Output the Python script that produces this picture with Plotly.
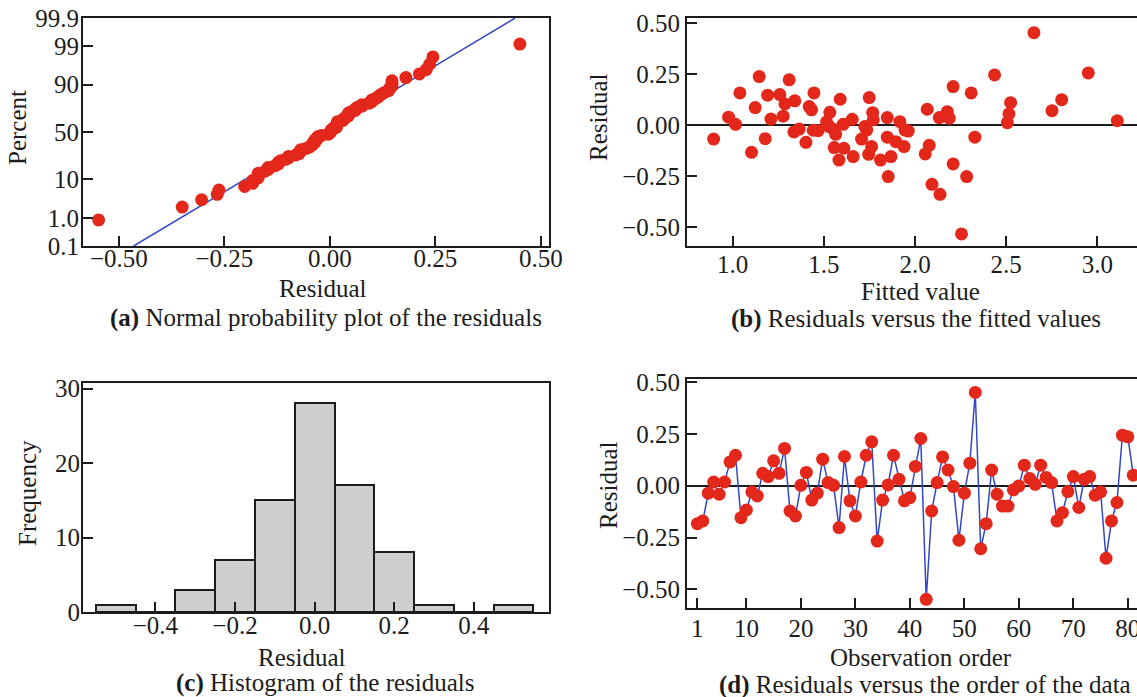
import numpy as np
import plotly.graph_objects as go
from statistics import NormalDist

# ---------------- data ----------------
# residuals in observation order (panel d)
residuals = [-0.183, -0.170, -0.036, 0.018, -0.041, 0.018, 0.115, 0.147, -0.154, -0.117,
             -0.030, -0.049, 0.060, 0.044, 0.120, 0.060, 0.180, -0.122, -0.146, 0.002,
             0.064, -0.069, -0.036, 0.128, 0.015, 0.002, -0.202, 0.141, -0.073, -0.146,
             0.018, 0.147, 0.212, -0.267, -0.069, 0.004, 0.147, 0.031, -0.073, -0.057,
             0.093, 0.228, -0.548, -0.122, 0.015, 0.139, 0.076, -0.004, -0.263, -0.036,
             0.109, 0.450, -0.304, -0.183, 0.076, -0.041, -0.098, -0.098, -0.020, -0.001,
             0.099, 0.035, 0.007, 0.099, 0.040, 0.015, -0.170, -0.130, -0.028, 0.044,
             -0.105, 0.031, 0.044, -0.046, -0.030, -0.350, -0.170, -0.081, 0.244, 0.236,
             0.051]
observation = list(range(1, len(residuals) + 1))

# panel b: fitted values and their residuals
fitted = [0.896, 0.978, 1.016, 1.040, 1.104, 1.124, 1.146, 1.179, 1.192, 1.210,
          1.259, 1.277, 1.287, 1.310, 1.341, 1.336, 1.365, 1.402, 1.420, 1.433,
          1.446, 1.442, 1.469, 1.515, 1.533, 1.530, 1.552, 1.565, 1.557, 1.583,
          1.590, 1.606, 1.610, 1.656, 1.661, 1.707, 1.725, 1.749, 1.762, 1.746,
          1.768, 1.771, 1.735, 1.811, 1.848, 1.848, 1.853, 1.868, 1.895, 1.917,
          1.940, 1.945, 1.963, 2.067, 2.078, 2.056, 2.093, 2.137, 2.133, 2.177,
          2.188, 2.209, 2.209, 2.255, 2.283, 2.308, 2.328, 2.436, 2.524, 2.515,
          2.506, 2.652, 2.751, 2.804, 2.950, 3.109]
fitted_resid = [-0.069, 0.038, 0.003, 0.157, -0.134, 0.085, 0.237, -0.067, 0.146, 0.029,
                0.149, 0.043, 0.103, 0.221, 0.118, -0.034, -0.020, -0.085, 0.090, 0.074,
                0.157, -0.026, -0.028, 0.015, 0.062, -0.008, -0.021, -0.046, -0.111, -0.172,
                0.126, 0.003, -0.114, 0.028, -0.155, -0.069, -0.008, 0.134, -0.106, -0.144,
                0.060, 0.025, -0.025, -0.172, 0.036, -0.060, -0.253, -0.155, -0.082, 0.016,
                -0.106, -0.025, -0.030, 0.077, -0.100, -0.142, -0.291, -0.340, 0.036, 0.065,
                0.033, 0.188, -0.191, -0.534, -0.253, 0.157, -0.060, 0.245, 0.109, 0.054,
                0.011, 0.452, 0.070, 0.124, 0.255, 0.021]

# panel c: histogram
bin_centers = [-0.5, -0.4, -0.3, -0.2, -0.1, 0.0, 0.1, 0.2, 0.3, 0.4, 0.5]
bin_counts = [1, 0, 3, 7, 15, 28, 17, 8, 1, 0, 1]

# panel a: probability-axis tick labels
pct_ticks = [0.1, 1.0, 10, 50, 90, 99, 99.9]
pct_labels = ["0.1", "1.0", "10", "50", "90", "99", "99.9"]

# ---------------- styling ----------------
W, H = 1137, 697
RED = "#E3281B"
BLUE = "#3447C2"
AX = "#1c1c1c"
FONT = "Liberation Serif"
FS = 25

nd = NormalDist()
n = len(residuals)
sorted_res = np.sort(residuals)
ranks = np.arange(1, n + 1)
zq = [nd.inv_cdf((r - 0.3) / (n + 0.4)) for r in ranks]
mu = float(np.mean(residuals))
sd = float(np.std(residuals, ddof=1))
zmax = nd.inv_cdf(0.999)
line_z = [-zmax, zmax]
line_x = [mu + sd * z for z in line_z]

def px(x):
    return x / W

def py(y):
    return 1 - y / H

fig = go.Figure()

# (a)
fig.add_trace(go.Scatter(x=line_x, y=line_z, mode="lines", line=dict(color=BLUE, width=1.5),
                         xaxis="x", yaxis="y", showlegend=False))
fig.add_trace(go.Scatter(x=sorted_res, y=zq, mode="markers",
                         marker=dict(color=RED, size=13), xaxis="x", yaxis="y", showlegend=False))
# (b)
fig.add_trace(go.Scatter(x=fitted, y=fitted_resid, mode="markers",
                         marker=dict(color=RED, size=13), xaxis="x2", yaxis="y2", showlegend=False))
# (c)
fig.add_trace(go.Bar(x=bin_centers, y=bin_counts, width=0.1,
                     marker=dict(color="#D0CFCD", line=dict(color=AX, width=2)),
                     xaxis="x3", yaxis="y3", showlegend=False))
# (d)
fig.add_trace(go.Scatter(x=observation, y=residuals, mode="lines+markers",
                         line=dict(color=BLUE, width=1.5),
                         marker=dict(color=RED, size=13), xaxis="x4", yaxis="y4", showlegend=False))

tickfont = dict(family=FONT, size=FS, color=AX)
common = dict(showgrid=False, zeroline=False, showline=True, linecolor=AX, linewidth=2,
              ticks="inside", ticklen=10, tickwidth=2, tickcolor=AX, tickfont=tickfont,
              automargin=False)

xa_dom = [px(83), px(549)]
xb_dom = [px(687), 1.0]
y_top = [py(246), py(18)]
yc_dom = [py(612), py(383)]
yd_dom = [py(608), py(379)]

fig.update_layout(
    width=W, height=H, margin=dict(l=0, r=0, t=0, b=0, pad=0), autosize=False,
    paper_bgcolor="white", plot_bgcolor="white", bargap=0,
    xaxis=dict(domain=xa_dom, range=[-0.585, 0.519], tickvals=[-0.5, -0.25, 0, 0.25, 0.5],
               tickformat=".2f", mirror=True, anchor="y", ticklabelstandoff=-11, **common),
    yaxis=dict(domain=y_top, range=[-zmax, zmax],
               tickvals=[nd.inv_cdf(p / 100) for p in pct_ticks], ticktext=pct_labels,
               mirror=True, anchor="x", ticklabelstandoff=-3, **common),
    xaxis2=dict(domain=xb_dom, range=[0.75, 3.217], tickvals=[1.0, 1.5, 2.0, 2.5, 3.0],
                tickformat=".1f", mirror=True, anchor="y2", ticklabelstandoff=-5,
                ticklabeloverflow="allow", **common),
    yaxis2=dict(domain=y_top, range=[-0.593, 0.524], tickvals=[-0.5, -0.25, 0, 0.25, 0.5],
                tickformat=".2f", anchor="x2", **{**common, "zeroline": True},
                zerolinecolor=AX, zerolinewidth=1.5),
    xaxis3=dict(domain=xa_dom, range=[-0.582, 0.589], tickvals=[-0.4, -0.2, 0, 0.2, 0.4],
                tickformat=".1f", mirror=True, anchor="y3", ticklabelstandoff=-10, **common),
    yaxis3=dict(domain=yc_dom, range=[0, 30.75], tickvals=[0, 10, 20, 30],
                mirror=True, anchor="x3", ticklabelstandoff=-4, **common),
    xaxis4=dict(domain=xb_dom, range=[-0.9, 81.68], tickvals=[1, 10, 20, 30, 40, 50, 60, 70, 80],
                mirror=True, anchor="y4", ticklabelstandoff=-3, ticklabeloverflow="allow",
                **common),
    yaxis4=dict(domain=yd_dom, range=[-0.59, 0.515], tickvals=[-0.5, -0.25, 0, 0.25, 0.5],
                tickformat=".2f", anchor="x4", **{**common, "zeroline": True},
                zerolinecolor=AX, zerolinewidth=1.5),
)

def ann(text, x, y, angle=0, xanchor="center"):
    fig.add_annotation(text=text, x=px(x), y=py(y), xref="paper", yref="paper",
                       showarrow=False, textangle=angle, xanchor=xanchor, yanchor="middle",
                       font=dict(family=FONT, size=FS, color=AX))

ann("Percent", 18, 128, -90)
ann("Residual", 323, 289)
ann("<b>(a)</b> Normal probability plot of the residuals", 326, 318)
ann("Residual", 599, 117, -90)
ann("Fitted value", 920, 291)
ann("<b>(b)</b> Residuals versus the fitted values", 916, 319)
ann("Frequency", 27, 493, -90)
ann("Residual", 302, 657)
ann("<b>(c)</b> Histogram of the residuals", 325, 683)
ann("Residual", 608, 485, -90)
ann("Observation order", 921, 657)
ann("<b>(d)</b> Residuals versus the order of the data", 717, 685, xanchor="left")

fig.write_html("out.html")
